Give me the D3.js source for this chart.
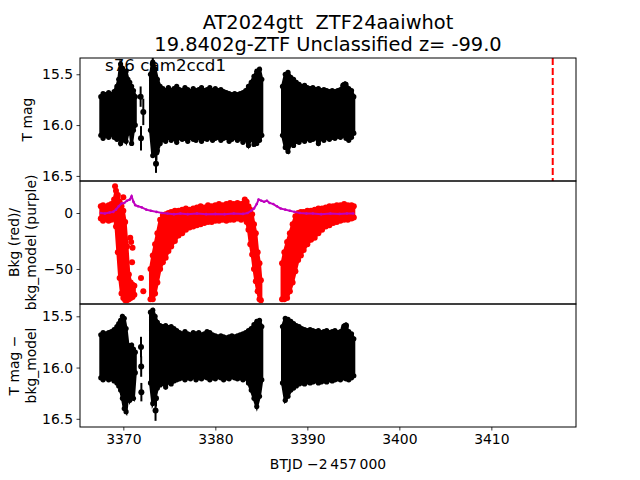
<!DOCTYPE html>
<html><head><meta charset="utf-8">
<script src="https://cdn.jsdelivr.net/npm/d3@7"></script>
<style>body{margin:0;background:#fff}svg{display:block}text{font-family:"DejaVu Sans",sans-serif;white-space:pre}</style>
</head><body>
<script>
// ---------- DATA ----------
const titleLines = ["AT2024gtt  ZTF24aaiwhot", "19.8402g-ZTF Unclassified z= -99.0"];
const sectorLabel = "s76 cam2ccd1";
const xTicks = [3370, 3380, 3390, 3400, 3410];
const magTicks = [15.5, 16.0, 16.5];
const bkgTicks = [0, -50];
const eventTime = 3416.67;

// binned light-curve times (BTJD - 2457000)
const btjd = [3367.55,3367.8,3368.1,3368.4,3368.7,3369.0,3369.3,3369.5,3369.7,3369.9,3370.1,3370.3,3370.5,3370.7,3370.9,3371.1,3371.3,
  3372.95,3373.2,3373.45,3373.7,3374.0,3374.3,3374.6,3374.9,3375.2,3375.5,3375.8,3376.1,3376.4,3376.7,3377.0,3377.3,3377.6,3377.9,3378.2,3378.5,3378.8,3379.1,3379.4,3379.7,3380.0,3380.3,3380.6,3380.9,3381.2,3381.5,3381.8,3382.1,3382.4,3382.7,3383.0,3383.3,3383.6,3383.9,3384.2,3384.5,3384.8,3385.05,
  3387.3,3387.6,3387.9,3388.2,3388.5,3388.8,3389.1,3389.4,3389.7,3390.0,3390.3,3390.6,3390.9,3391.2,3391.5,3391.8,3392.1,3392.4,3392.7,3393.0,3393.3,3393.6,3393.9,3394.2,3394.5,3394.8,3395.05];
// T mag: bright edge / faint edge of the scatter in each bin
const tmagTop = [15.72,15.69,15.70,15.68,15.70,15.67,15.62,15.55,15.40,15.44,15.50,15.47,15.55,15.58,15.62,15.66,15.72,
  15.50,15.38,15.45,15.55,15.62,15.64,15.66,15.63,15.66,15.64,15.62,15.65,15.66,15.63,15.65,15.67,15.64,15.66,15.65,15.63,15.66,15.65,15.63,15.66,15.64,15.66,15.65,15.67,15.68,15.69,15.70,15.69,15.70,15.69,15.68,15.66,15.62,15.58,15.52,15.47,15.45,15.55,
  15.62,15.50,15.48,15.53,15.55,15.58,15.60,15.62,15.61,15.63,15.64,15.63,15.65,15.64,15.66,15.65,15.66,15.67,15.66,15.67,15.66,15.65,15.62,15.60,15.64,15.66,15.72];
const tmagBot = [16.10,16.13,16.10,16.12,16.09,16.12,16.14,16.10,16.18,16.15,16.12,16.16,16.08,16.02,16.18,16.05,16.00,
  16.05,16.30,16.22,16.25,16.18,16.14,16.16,16.12,16.15,16.13,16.17,16.12,16.14,16.13,16.16,16.12,16.14,16.15,16.12,16.16,16.13,16.14,16.12,16.15,16.13,16.12,16.15,16.13,16.12,16.16,16.14,16.12,16.15,16.13,16.17,16.14,16.20,16.12,16.19,16.18,16.15,16.10,
  16.10,16.22,16.26,16.18,16.20,16.16,16.17,16.14,16.16,16.13,16.15,16.14,16.12,16.18,16.13,16.15,16.12,16.14,16.12,16.13,16.11,16.12,16.10,16.13,16.15,16.12,16.08];
const tmagOutT = [3371.88,3371.92,3372.17,3373.2,3373.55,3373.6,3393.9,3394.1];
const tmagOutV = [15.72,16.13,15.87,15.40,16.38,16.27,15.61,15.60];
const tmagOutE = [0.10,0.12,0.13,0.06,0.09,0.08,0.03,0.03];

// T mag - bkg_model
const corrTop = [15.68,15.66,15.67,15.66,15.65,15.63,15.60,15.57,15.54,15.50,15.52,15.62,15.78,15.80,15.78,15.82,15.85,
  15.46,15.44,15.50,15.56,15.59,15.60,15.59,15.61,15.60,15.62,15.64,15.66,15.67,15.65,15.67,15.68,15.66,15.67,15.66,15.68,15.67,15.65,15.66,15.68,15.69,15.70,15.69,15.70,15.71,15.70,15.69,15.70,15.69,15.68,15.67,15.66,15.64,15.62,15.58,15.55,15.54,15.60,
  15.60,15.52,15.53,15.55,15.57,15.59,15.60,15.62,15.63,15.64,15.63,15.64,15.65,15.64,15.66,15.65,15.64,15.66,15.65,15.64,15.66,15.65,15.62,15.61,15.65,15.67,15.72];
const corrBot = [16.10,16.12,16.10,16.12,16.11,16.13,16.15,16.18,16.22,16.30,16.40,16.43,16.25,16.32,16.28,16.30,16.05,
  16.15,16.35,16.30,16.20,16.17,16.15,16.19,16.14,16.16,16.13,16.12,16.11,16.10,16.12,16.10,16.11,16.09,16.12,16.10,16.11,16.09,16.10,16.12,16.10,16.11,16.09,16.10,16.12,16.10,16.11,16.09,16.10,16.11,16.10,16.12,16.10,16.15,16.22,16.30,16.38,16.28,16.12,
  16.15,16.32,16.28,16.22,16.20,16.18,16.16,16.15,16.16,16.14,16.15,16.14,16.13,16.15,16.14,16.13,16.14,16.12,16.13,16.12,16.11,16.12,16.10,16.11,16.12,16.10,16.08];
const corrOutT = [3371.92,3371.94,3371.96,3373.5,3373.55,3394.0,3394.2];
const corrOutV = [15.80,15.99,16.24,16.42,16.30,15.60,15.59];
const corrOutE = [0.10,0.10,0.09,0.10,0.08,0.03,0.03];

// background (red): upper / lower edge per bin
const bkgT = [3367.55,3367.8,3368.1,3368.4,3368.7,3369.0,3369.2,3369.4,3369.6,3369.8,3370.0,3370.2,3370.4,3370.6,3370.8,3371.0,3371.2,
  3372.95,3373.2,3373.45,3373.7,3374.0,3374.3,3374.6,3374.9,3375.2,3375.6,3376.0,3376.4,3376.8,3377.2,3377.6,3378.0,3378.4,3378.8,3379.2,3379.6,3380.0,3380.4,3380.8,3381.2,3381.6,3382.0,3382.4,3382.8,3383.2,3383.4,3383.6,3383.8,3384.0,3384.2,3384.4,3384.6,3384.8,3384.95,
  3387.25,3387.5,3387.8,3388.1,3388.4,3388.7,3389.0,3389.3,3389.6,3390.0,3390.4,3390.8,3391.2,3391.6,3392.0,3392.4,3392.8,3393.2,3393.6,3394.0,3394.4,3394.8,3395.05];
const bkgHi = [6,7,5,7,8,12,20,16,10,6,2,-8,-30,-55,-62,-64,-65,
  -50,-38,-28,-18,-6,-2,-1,0,1,2,2,3,4,3,4,5,6,5,7,6,7,8,7,8,9,8,9,8,12,10,6,3,-1,-10,-18,-35,-45,-60,
  -45,-35,-26,-18,-10,-3,0,1,1,2,2,3,4,4,5,6,6,7,7,8,7,7,6];
const bkgLo = [-5,-7,-5,-7,-6,-4,-12,-35,-58,-72,-76,-78,-78,-77,-76,-75,-73,
  -77,-77,-72,-62,-50,-44,-40,-34,-30,-25,-20,-18,-15,-13,-12,-11,-10,-9,-8,-8,-7,-7,-6,-7,-6,-6,-5,-6,-5,-8,-15,-28,-37,-50,-61,-70,-77,-78,
  -77,-77,-76,-70,-62,-52,-42,-38,-33,-28,-24,-22,-18,-15,-12,-11,-9,-8,-7,-6,-6,-5,-4];
const bkgOutT = [3369.1,3370.0,3370.75,3370.85,3371.0,3370.95,3371.92,3372.17];
const bkgOutV = [24,14,-22,-26,-31,-44,-58,-70];

// background model (purple)
const modelT = [3367.55,3368.0,3368.5,3368.9,3369.2,3369.5,3369.8,3370.1,3370.4,3370.7,3370.9,3371.1,3371.3,3371.6,3372.0,3372.5,3373.0,3373.6,3374.2,3374.8,3375.5,3376.2,3377.0,3378.0,3379.0,3380.0,3381.0,3382.0,3383.0,3383.5,3383.9,3384.2,3384.5,3384.7,3385.0,3385.3,3385.6,3385.9,3386.3,3386.7,3387.1,3387.6,3388.1,3388.6,3389.2,3389.9,3390.6,3391.5,3392.5,3393.5,3394.3,3395.0];
const modelV = [0,-0.5,0.5,1,3,6,8.5,9,11,12,15,10,7,6,5,3,2,1,0,-0.5,-1,-0.5,-1,-0.5,-1,-0.8,-1,-0.5,-0.8,0,2,4,8,12,11,10,11,9,8,6,4,3,2,1,0,-0.5,-0.5,-1,-0.5,-0.8,-0.5,-0.5];

// ---------- LAYOUT ----------
const W = 640, H = 480;
const L = 80, R = 576;
const panels = [{top: 58, bot: 181}, {top: 181, bot: 304}, {top: 304, bot: 427}];
const svg = d3.select("body").append("svg").attr("width", W).attr("height", H);

const x = d3.scaleLinear().domain([3365.29, 3419.2]).range([L, R]);
const y1 = d3.scaleLinear().domain([15.34, 16.55]).range([panels[0].top, panels[0].bot]);
const y2 = d3.scaleLinear().domain([28.6, -81.3]).range([panels[1].top, panels[1].bot]);
const y3 = d3.scaleLinear().domain([15.38, 16.58]).range([panels[2].top, panels[2].bot]);

function segments(ts) {
  const segs = []; let cur = [];
  ts.forEach((t, i) => {
    if (cur.length && t - ts[i - 1] > 1.0) { segs.push(cur); cur = []; }
    cur.push(i);
  });
  if (cur.length) segs.push(cur);
  return segs;
}

function clip(id, p) {
  svg.append("clipPath").attr("id", id).append("rect")
    .attr("x", L).attr("y", p.top).attr("width", R - L).attr("height", p.bot - p.top);
}
panels.forEach((p, i) => clip("c" + i, p));

function band(g, ts, top, bot, y, color, r) {
  const idx = segments(ts);
  idx.forEach(seg => {
    const area = d3.area().x(i => x(ts[i])).y0(i => y(top[i])).y1(i => y(bot[i]));
    g.append("path").attr("d", area(seg)).attr("fill", color).attr("stroke", color).attr("stroke-width", 3);
  });
  const pts = ts.map((t, i) => i);
  g.selectAll(null).data(pts).enter().append("circle")
    .attr("cx", i => x(ts[i])).attr("cy", i => y(top[i])).attr("r", r).attr("fill", color);
  g.selectAll(null).data(pts).enter().append("circle")
    .attr("cx", i => x(ts[i])).attr("cy", i => y(bot[i])).attr("r", r).attr("fill", color);
}

function errpts(g, ts, vs, es, y) {
  const idx = ts.map((t, i) => i);
  g.selectAll(null).data(idx).enter().append("line")
    .attr("x1", i => x(ts[i])).attr("x2", i => x(ts[i]))
    .attr("y1", i => y(vs[i] - es[i])).attr("y2", i => y(vs[i] + es[i]))
    .attr("stroke", "black").attr("stroke-width", 2);
  g.selectAll(null).data(idx).enter().append("circle")
    .attr("cx", i => x(ts[i])).attr("cy", i => y(vs[i])).attr("r", 3).attr("fill", "black");
}

// Panel 1
const g1 = svg.append("g").attr("clip-path", "url(#c0)");
band(g1, btjd, tmagTop, tmagBot, y1, "black", 2.6);
errpts(g1, tmagOutT, tmagOutV, tmagOutE, y1);
g1.append("line").attr("x1", x(eventTime)).attr("x2", x(eventTime))
  .attr("y1", panels[0].top).attr("y2", panels[0].bot)
  .attr("stroke", "#ff0000").attr("stroke-width", 2).attr("stroke-dasharray", "7,3");

// Panel 2
const g2 = svg.append("g").attr("clip-path", "url(#c1)");
band(g2, bkgT, bkgHi, bkgLo, y2, "#ff0000", 3);
g2.selectAll(null).data(bkgOutT.map((t, i) => i)).enter().append("circle")
  .attr("cx", i => x(bkgOutT[i])).attr("cy", i => y2(bkgOutV[i])).attr("r", 3).attr("fill", "#ff0000");
g2.append("path")
  .attr("d", d3.line().x(i => x(modelT[i])).y(i => y2(modelV[i]))(modelT.map((t, i) => i)))
  .attr("fill", "none").attr("stroke", "#bf00bf").attr("stroke-width", 2);
g2.selectAll(null).data(modelT.map((t, i) => i)).enter().append("circle")
  .attr("cx", i => x(modelT[i])).attr("cy", i => y2(modelV[i])).attr("r", 1.3).attr("fill", "#bf00bf");

// Panel 3
const g3 = svg.append("g").attr("clip-path", "url(#c2)");
band(g3, btjd, corrTop, corrBot, y3, "black", 2.6);
errpts(g3, corrOutT, corrOutV, corrOutE, y3);

// Axes
const fmt = d => d3.format(".1f")(d);
const minus = s => String(s).replace("-", "\u2212");
function yAxis(y, ticks, f) {
  const ax = svg.append("g").attr("transform", `translate(${L},0)`)
    .call(d3.axisLeft(y).tickValues(ticks).tickFormat(f).tickSize(3.5).tickPadding(3.5));
  ax.select(".domain").remove();
  ax.selectAll("line").attr("stroke-width", 0.8);
  ax.selectAll("text").attr("font-size", "13.9px").attr("font-family", "DejaVu Sans");
}
yAxis(y1, magTicks, fmt);
yAxis(y2, bkgTicks, d => minus(d));
yAxis(y3, magTicks, fmt);

const xa = svg.append("g").attr("transform", `translate(0,${panels[2].bot})`)
  .call(d3.axisBottom(x).tickValues(xTicks).tickFormat(d => d).tickSize(3.5).tickPadding(3.5));
xa.select(".domain").remove();
xa.selectAll("line").attr("stroke-width", 0.8);
xa.selectAll("text").attr("font-size", "13.9px").attr("font-family", "DejaVu Sans");

panels.forEach(p => {
  svg.append("rect").attr("x", L).attr("y", p.top).attr("width", R - L).attr("height", p.bot - p.top)
    .attr("fill", "none").attr("stroke", "black").attr("stroke-width", 1);
});

// Texts
svg.append("text").attr("x", 328).attr("y", 29).attr("text-anchor", "middle").attr("font-size", "19.4px").text(titleLines[0]);
svg.append("text").attr("x", 328).attr("y", 51).attr("text-anchor", "middle").attr("font-size", "19.4px").text(titleLines[1]);
svg.append("text").attr("x", 105).attr("y", 71).attr("font-size", "16.7px").text(sectorLabel);
svg.append("text").attr("x", 328).attr("y", 469).attr("text-anchor", "middle").attr("font-size", "13.9px").text("BTJD \u22122\u2009457\u2009000");

function ylab(lines, cy) {
  const t = svg.append("text").attr("transform", `translate(0,${cy}) rotate(-90)`).attr("text-anchor", "middle").attr("font-size", "13.9px");
  const x0 = lines.length === 1 ? 32 : 19;
  lines.forEach((s, i) => t.append("tspan").attr("x", 0).attr("y", x0 + i * 17).text(s));
}
ylab(["T mag"], (panels[0].top + panels[0].bot) / 2);
ylab(["Bkg (red)/", "bkg_model (purple)"], (panels[1].top + panels[1].bot) / 2);
ylab(["T mag \u2212", "bkg_model"], (panels[2].top + panels[2].bot) / 2);
</script>
</body></html>
